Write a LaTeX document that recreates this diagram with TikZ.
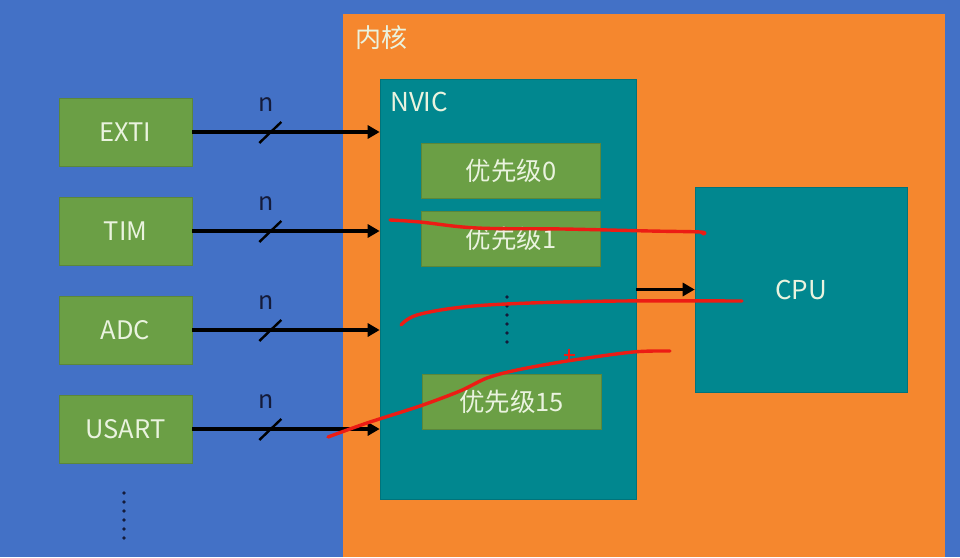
\documentclass[tikz,border=0pt]{standalone}
\usepackage{fontspec}
\setmainfont{Noto Sans CJK SC}
\usetikzlibrary{arrows.meta}
\definecolor{bgblue}{HTML}{4371C6}
\definecolor{coreorange}{HTML}{F5872E}
\definecolor{nvicteal}{HTML}{01878F}
\definecolor{boxgreen}{HTML}{6B9F45}
\definecolor{lighttext}{HTML}{EAF3DF}
\definecolor{navy}{HTML}{141B3A}
\definecolor{scribble}{HTML}{EC1C14}
\tikzset{
  srcbox/.style={fill=boxgreen, draw=boxgreen!85!black, line width=0.6pt, minimum width=133pt, minimum height=68pt, inner sep=0pt, text=lighttext, font=\fontsize{25.5}{28}\selectfont},
  priobox/.style={fill=boxgreen, draw=boxgreen!85!black, line width=0.6pt, minimum width=179pt, minimum height=55pt, inner sep=0pt, text=lighttext, font=\fontsize{25.5}{28}\selectfont},
  tealbox/.style={fill=nvicteal, draw=nvicteal!85!black, line width=0.6pt, inner sep=0pt},
  bus/.style={draw=black, line width=3.6pt, -{Triangle[length=12pt,width=13pt]}},
  slash/.style={draw=black, line width=2.4pt},
  nlabel/.style={text=navy, font=\fontsize{25}{27}\selectfont, inner sep=0pt},
  pen/.style={draw=scribble, line width=3.4pt, line cap=round, line join=round},
  dotmark/.style={fill=navy, draw=none}
}
\begin{document}
\begin{tikzpicture}[x=1pt,y=-1pt]
\useasboundingbox (0,0) rectangle (960,557);
\fill[bgblue] (0,0) rectangle (960,557);
% core
\node[fill=coreorange, draw=none, minimum width=602pt, minimum height=543pt, inner sep=0pt, anchor=north west] (core) at (343,14) {};
\node[anchor=west, text=lighttext, font=\fontsize{26}{28}\selectfont, inner sep=0pt] (corelbl) at (355,38) {内核};
% NVIC
\node[tealbox, minimum width=256pt, minimum height=420pt] (nvic) at (508,289) {};
\node[anchor=west, text=lighttext, font=\fontsize{26}{28}\selectfont, inner sep=0pt] (nviclbl) at (390,102) {NVIC};
\node[priobox] (p0) at (511,170.5) {优先级0};
\node[priobox] (p1) at (511,238.5) {优先级1};
\node[priobox] (p15) at (511.5,402) {优先级15};
\foreach \yy in {297,306,315,324,333,342} \fill[dotmark] (507,\yy) circle (1.8pt);
% CPU
\node[tealbox, minimum width=212pt, minimum height=205pt, text=lighttext, font=\fontsize{26}{28}\selectfont] (cpu) at (801,289.5) {CPU};
% sources
\node[srcbox] (exti) at (125.5,132) {EXTI};
\node[srcbox] (tim) at (125.5,231) {TIM};
\node[srcbox] (adc) at (125.5,330) {ADC};
\node[srcbox] (usart) at (125.5,429) {USART};
\foreach \yy in {493,502,511,520,529,538} \fill[dotmark] (124,\yy) circle (1.8pt);
% buses
\foreach \s in {exti,tim,adc,usart}{
  \draw[bus] (\s.east) -- (\s.east -| nvic.west);
  \draw[slash] ([xshift=67pt,yshift=-11pt]\s.east) -- ([xshift=89pt,yshift=10pt]\s.east);
  \node[nlabel] at ([xshift=74pt,yshift=27pt]\s.east) {n};
}
\draw[bus] (cpu.west -| nvic.east) -- (cpu.west);
% red hand annotations
\draw[pen] plot[smooth, tension=0.6] coordinates {(390,220) (420,222) (477,228) (563,229) (650,231) (700,232) (703,234)};
\draw[pen] plot[smooth, tension=0.6] coordinates {(401,325) (417,315) (463,307) (530,303) (620,301) (742,301)};
\draw[pen] plot[smooth, tension=0.5] coordinates {(328,437) (367,423) (420,406) (460,391) (487,378) (517,370) (567,361) (633,352) (670,351)};
\draw[draw=scribble, line width=1.8pt] (569,349) -- (569,359) (564,355) -- (575,355);
\end{tikzpicture}
\end{document}
